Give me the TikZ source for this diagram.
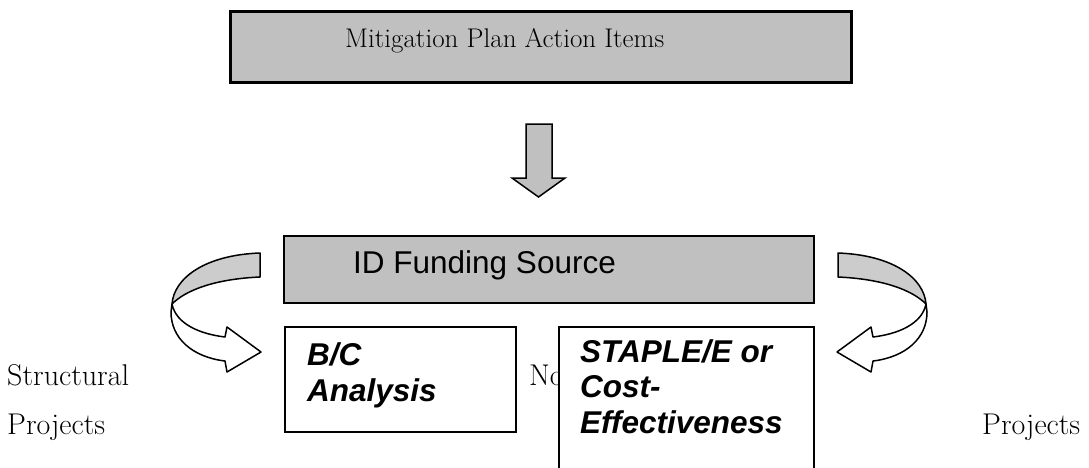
\documentclass[tikz,border=0pt]{standalone}
\usepackage{fontspec}
\newfontfamily\arialfont{Liberation Sans}
\definecolor{boxgray}{RGB}{192,192,192}
\definecolor{ribbongray}{RGB}{204,204,204}
\newcommand{\serifsize}{\fontsize{30}{49}\selectfont}
\newcommand{\sanssize}{\arialfont\fontsize{31.5}{35.5}\selectfont}
% curved 3d arrow, drawn for the left side
\newcommand{\bentarrow}{%
  \filldraw[ribbon, fill=ribbongray] (260,253) .. controls (205,255) and (174,278) .. (172,304)
      .. controls (186,290) and (215,279) .. (260,277) -- cycle;
  \filldraw[ribbon, fill=white] (172,304) .. controls (176,324) and (200,334) .. (225,337)
      -- (227,327) -- (261,352) -- (227,372) -- (225,361)
      .. controls (192,357) and (171,338) .. (171,312) -- cycle;
}
\tikzset{
    common/.style={draw, rectangle, anchor=north west, inner sep=0pt},
    banner/.style={common, fill=boxgray},
    method/.style={common, fill=white, line width=1.6pt},
    serif/.style={anchor=base west, inner sep=0pt, font=\serifsize},
    boxtext/.style={anchor=base west, inner sep=0pt, align=left, font=\sanssize\bfseries\itshape},
    ribbon/.style={line width=1.5pt, line join=round}
}

\begin{document}
\begin{tikzpicture}[x=1pt, y=-1pt]
    \useasboundingbox (0,0) rectangle (1089,467);
    \clip (0,0) rectangle (1089,467);

    \node[banner, line width=2.6pt, minimum width=621pt, minimum height=71pt] (actions) at (229,10) {};
    \node[serif, font=\fontsize{27}{30}\selectfont] (actionstext) at (345,47) {Mitigation Plan Action Items};

    \filldraw[ribbon, line join=miter, fill=boxgray] (526,124) -- (552,124) -- (552,178) -- (565,178)
        -- (538.5,197) -- (512,178) -- (526,178) -- cycle;

    \node[banner, line width=2.2pt, minimum width=530pt, minimum height=67pt] (funding) at (283,235) {};
    \node[anchor=base west, inner sep=0pt, font=\sanssize] (fundingtext) at (353,273) {ID Funding Source};

    \bentarrow
    \begin{scope}[xshift=1098pt, xscale=-1]
        \bentarrow
    \end{scope}

    % base anchor of a two or three line node sits on its last line
    \node[method, minimum width=231pt, minimum height=105pt] (bc) at (284,326) {};
    \node[boxtext] (bctext) at (307,401) {B/C\\Analysis};

    \node[serif] (nonstruct) at (529,385) {No};
    \node[method, minimum width=255pt, minimum height=160pt] (staple) at (558,326) {};
    \node[boxtext] (stapletext) at (580,433) {STAPLE/E or\\Cost-\\Effectiveness};

    \node[serif] (structural) at (7,385) {Structural};
    \node[serif] (leftprojects) at (7,434) {Projects};
    \node[serif] (rightprojects) at (982,434) {Projects};
\end{tikzpicture}
\end{document}
